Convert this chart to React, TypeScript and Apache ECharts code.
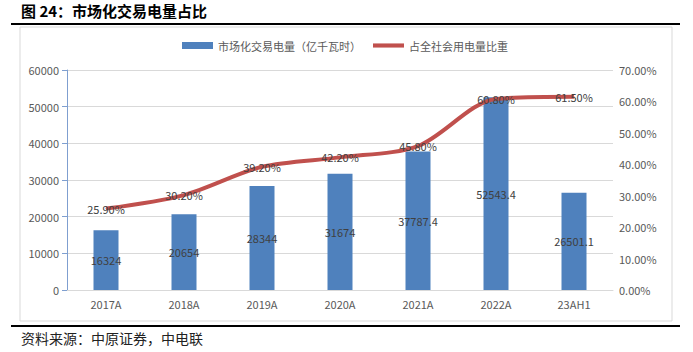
import React, { useEffect, useRef } from "react";
import * as echarts from "echarts";

const categories = ["2017A", "2018A", "2019A", "2020A", "2021A", "2022A", "23AH1"];
const volume = [16324, 20654, 28344, 31674, 37787.4, 52543.4, 26501.1];
const share = [25.9, 30.2, 39.2, 42.2, 45.8, 60.8, 61.5];
const barName = "市场化交易电量（亿千瓦时）";
const lineName = "占全社会用电量比重";
const titleText = "图 24：市场化交易电量占比";
const sourceText = "资料来源：中原证券，中电联";

export default function App() {
  const ref = useRef<HTMLDivElement>(null);
  useEffect(() => {
    const chart = echarts.init(ref.current!, null, { renderer: "svg" });
    const font = "'Microsoft YaHei', 'Noto Sans CJK SC', sans-serif";
    chart.setOption({
      animation: false,
      textStyle: { fontFamily: font },
      grid: { left: 67, right: 80, top: 70, bottom: 62 },
      legend: {
        left: 182,
        top: 40,
        padding: 0,
        itemWidth: 31,
        itemHeight: 7,
        itemGap: 12,
        textStyle: { fontSize: 11, color: "#595959", fontFamily: font },
        data: [
          { name: barName, icon: "rect" },
          { name: lineName, icon: "path://M0 0H30V4H0Z" },
        ],
      },
      xAxis: {
        type: "category",
        data: categories,
        axisLine: { lineStyle: { color: "#d9d9d9" } },
        axisTick: { show: false },
        axisLabel: { fontSize: 11, color: "#595959", margin: 8 },
      },
      yAxis: [
        {
          type: "value",
          min: 0,
          max: 60000,
          interval: 10000,
          axisLine: { show: true, lineStyle: { color: "#7f9fd0" } },
          axisTick: { show: true, length: 5, lineStyle: { color: "#7f9fd0" } },
          axisLabel: {
            fontSize: 11,
            color: "#595959",
            margin: 8,
            formatter: (v: number) => String(v),
          },
          splitLine: { lineStyle: { color: "#d9d9d9" } },
        },
        {
          type: "value",
          min: 0,
          max: 70,
          interval: 10,
          axisLine: { show: false },
          axisTick: { show: false },
          axisLabel: {
            fontSize: 11,
            color: "#595959",
            margin: 6,
            formatter: (v: number) => v.toFixed(2) + "%",
          },
          splitLine: { show: false },
        },
      ],
      series: [
        {
          name: barName,
          type: "bar",
          data: volume,
          barWidth: 25,
          itemStyle: { color: "#4f81bd" },
          label: {
            show: true,
            position: "inside",
            fontSize: 11,
            color: "#404040",
            formatter: (p: any) => String(p.value),
          },
        },
        {
          name: lineName,
          type: "line",
          yAxisIndex: 1,
          data: share,
          smooth: 0.3,
          symbol: "circle",
          symbolSize: 1,
          lineStyle: { color: "#c0504d", width: 4 },
          itemStyle: { color: "#c0504d" },
          label: {
            show: true,
            position: "inside",
            fontSize: 11,
            color: "#404040",
            formatter: (p: any) => Number(p.value).toFixed(2) + "%",
          },
          z: 3,
        },
      ],
      graphic: [
        {
          type: "text",
          left: 21,
          top: 3,
          style: { text: titleText, fontSize: 15, fontWeight: "bold", fill: "#000", fontFamily: font },
        },
        {
          type: "line",
          shape: { x1: 11, y1: 24, x2: 680, y2: 24 },
          style: { stroke: "#000", lineWidth: 2 },
        },
        {
          type: "rect",
          shape: { x: 20, y: 27, width: 652, height: 294 },
          style: { stroke: "#d9d9d9", fill: "none", lineWidth: 1 },
          z: -1,
        },
        {
          type: "line",
          shape: { x1: 11, y1: 326, x2: 680, y2: 326 },
          style: { stroke: "#000", lineWidth: 2 },
        },
        {
          type: "text",
          left: 21,
          top: 331,
          style: { text: sourceText, fontSize: 14, fill: "#222", fontFamily: font },
        },
      ],
    });
    return () => chart.dispose();
  }, []);
  return (
    <div
      ref={ref}
      style={{ position: "fixed", left: 0, top: 0, width: 693, height: 352, background: "#fff" }}
    />
  );
}
